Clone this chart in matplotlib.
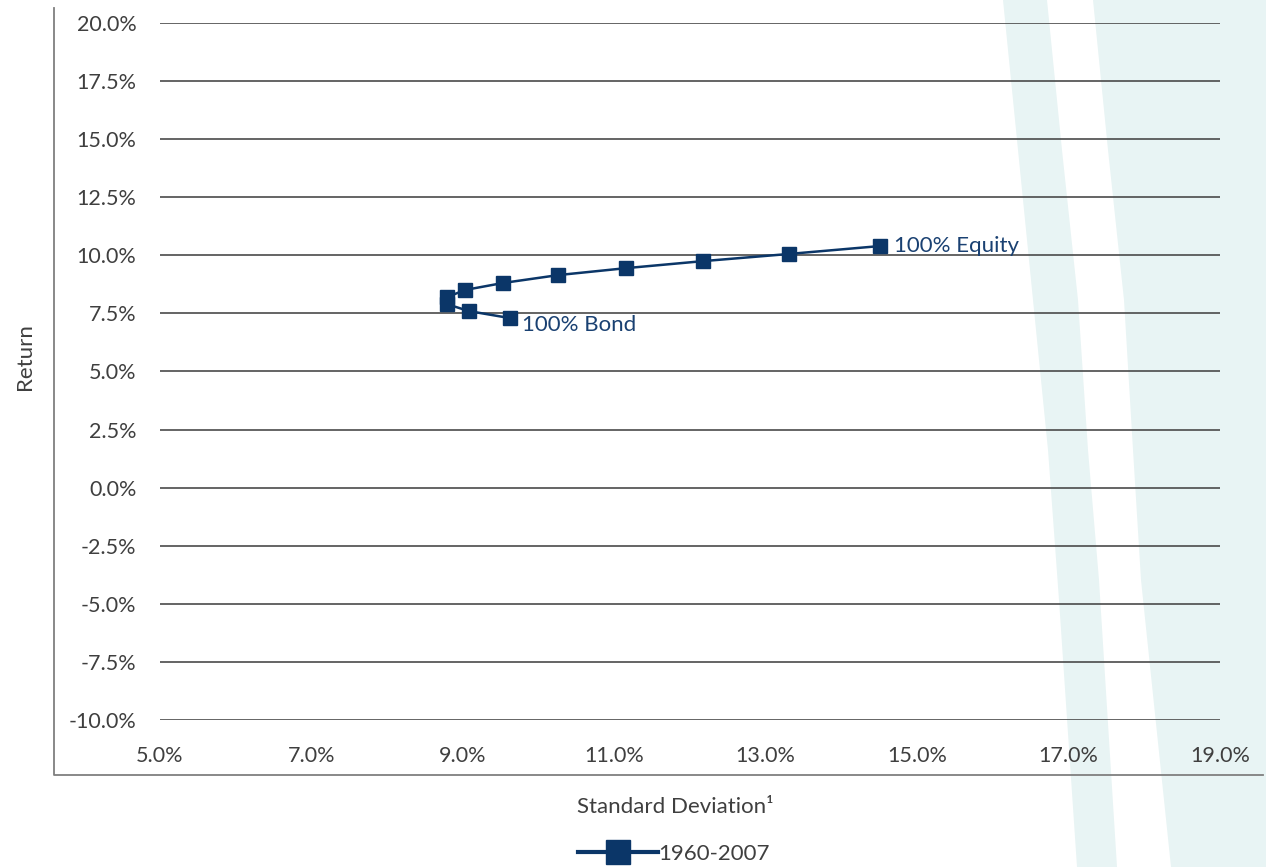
import matplotlib
matplotlib.use("Agg")
import matplotlib.pyplot as plt
from matplotlib.lines import Line2D
from matplotlib.patches import Polygon
from matplotlib.ticker import FuncFormatter

# ---- data ----
std_dev = [9.62, 9.08, 8.79, 8.79, 9.03, 9.53, 10.26, 11.16, 12.17, 13.31, 14.51]
returns = [7.30, 7.60, 7.90, 8.20, 8.51, 8.81, 9.15, 9.45, 9.75, 10.06, 10.40]
series_label = "1960-2007"
x_ticks = [5, 7, 9, 11, 13, 15, 17, 19]
y_ticks = [-10, -7.5, -5, -2.5, 0, 2.5, 5, 7.5, 10, 12.5, 15, 17.5, 20]

W, H = 1266, 867
navy = "#0b3668"
label_navy = "#1a4172"
text_grey = "#3f3f3f"
plt.rcParams['font.family'] = ['Lato', 'DejaVu Sans']

fig = plt.figure(figsize=(W / 100, H / 100), dpi=100)

# background layer with stripes (pixel coords)
bg = fig.add_axes([0, 0, 1, 1], zorder=-5)
bg.set_xlim(0, W)
bg.set_ylim(H, 0)
bg.axis('off')
stripe1 = [(1003, 0), (1018, 150), (1033, 300), (1048, 450), (1059, 600), (1077, 867),
           (1117, 867), (1099, 580), (1088, 450), (1078, 300), (1062, 150), (1047, 0)]
stripe2 = [(1093, 0), (1108, 150), (1124, 300), (1133, 450), (1141, 580), (1171, 867),
           (1266, 867), (1266, 0)]
for s in (stripe1, stripe2):
    bg.add_patch(Polygon(s, closed=True, facecolor="#e8f4f4", edgecolor="none"))
# outer frame
bg.plot([54, 54, 1263], [8, 775, 775], color="#7f7f7f", linewidth=1.3)

ax = fig.add_axes([160 / W, 1 - 720 / H, (1220 - 160) / W, (720 - 23) / H], zorder=1)
ax.patch.set_alpha(0)
ax.set_xlim(5, 19)
ax.set_ylim(-10, 20)
ax.set_xticks(x_ticks)
ax.set_yticks(y_ticks)
ax.xaxis.set_major_formatter(FuncFormatter(lambda v, p: f"{v:.1f}%"))
ax.yaxis.set_major_formatter(FuncFormatter(lambda v, p: f"{v:.1f}%"))
for sp in ax.spines.values():
    sp.set_visible(False)
ax.tick_params(axis='both', length=0, labelsize=15.5, labelcolor=text_grey)
ax.tick_params(axis='y', pad=17)
ax.tick_params(axis='x', pad=19)
ax.grid(axis='y', color="#4a4a4a", linewidth=1.2)
ax.grid(axis='x', visible=False)
ax.set_axisbelow(True)

ax.plot(std_dev, returns, color=navy, linewidth=1.8, marker='s', markersize=10.5,
        markerfacecolor=navy, markeredgecolor=navy, label=series_label, zorder=3)

ax.annotate("100% Equity", (std_dev[-1], returns[-1]), xytext=(10, 0),
            textcoords='offset points', color=label_navy, fontsize=16, va='center', ha='left')
ax.annotate("100% Bond", (std_dev[0], returns[0]), xytext=(9, -5),
            textcoords='offset points', color=label_navy, fontsize=16, va='center', ha='left')

fig.text(25 / W, 1 - 357 / H, "Return", rotation=90, ha='center', va='center',
         fontsize=16, color=text_grey)
fig.text(675 / W, 1 - 807 / H, "Standard Deviation\u00b9", ha='center', va='center',
         fontsize=16, color=text_grey)

fig.legend(handles=[Line2D([], [], color=navy, linewidth=3, marker='s', markersize=17,
                           markerfacecolor=navy, markeredgecolor=navy)],
           labels=[series_label], loc='center', bbox_to_anchor=(674 / W, 1 - 854 / H),
           frameon=False, fontsize=16, handlelength=3.6, handletextpad=0.0,
           borderpad=0, labelcolor=text_grey)

fig.savefig("out.png", dpi=100)
